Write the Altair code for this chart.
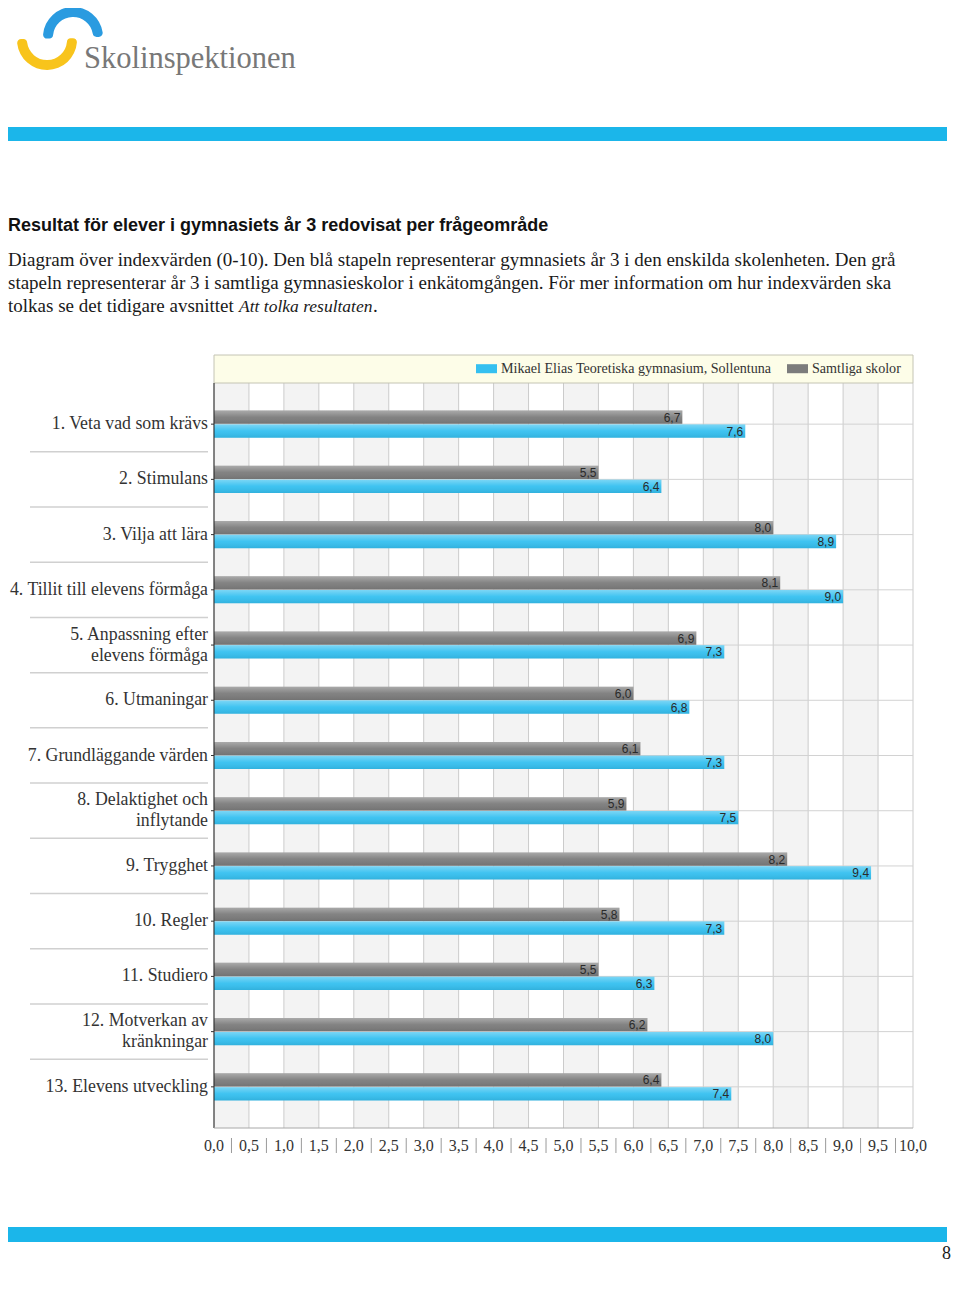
import altair as alt
import pandas as pd

# ---------------- data ----------------
categories = [
    "1. Veta vad som krävs",
    "2. Stimulans",
    "3. Vilja att lära",
    "4. Tillit till elevens förmåga",
    "5. Anpassning efter|elevens förmåga",
    "6. Utmaningar",
    "7. Grundläggande värden",
    "8. Delaktighet och|inflytande",
    "9. Trygghet",
    "10. Regler",
    "11. Studiero",
    "12. Motverkan av|kränkningar",
    "13. Elevens utveckling",
]
school_values = [7.6, 6.4, 8.9, 9.0, 7.3, 6.8, 7.3, 7.5, 9.4, 7.3, 6.3, 8.0, 7.4]
all_values = [6.7, 5.5, 8.0, 8.1, 6.9, 6.0, 6.1, 5.9, 8.2, 5.8, 5.5, 6.2, 6.4]
series_names = ["Mikael Elias Teoretiska gymnasium, Sollentuna", "Samtliga skolor"]
series_colors = ["#35c0f0", "#7c7c7c"]

grid_ticks = [0.0, 0.5, 1.0, 1.5, 2.0, 2.5, 3.0, 3.5, 4.0, 4.5, 5.0,
              5.5, 6.0, 6.5, 7.0, 7.5, 8.0, 8.5, 9.0, 9.5, 10.0]
shade_starts = [0.0, 1.0, 2.0, 3.0, 4.0, 5.0, 6.0, 7.0, 8.0, 9.0]
shade_ends = [0.5, 1.5, 2.5, 3.5, 4.5, 5.5, 6.5, 7.5, 8.5, 9.5]
label_separators = [0.25, 0.75, 1.25, 1.75, 2.25, 2.75, 3.25, 3.75, 4.25, 4.75,
                    5.25, 5.75, 6.25, 6.75, 7.25, 7.75, 8.25, 8.75, 9.25, 9.75]

logo_text = "Skolinspektionen"
heading = "Resultat för elever i gymnasiets år 3 redovisat per frågeområde"
para_lines = [
    "Diagram över indexvärden (0-10). Den blå stapeln representerar gymnasiets år 3 i den enskilda skolenheten. Den grå",
    "stapeln representerar år 3 i samtliga gymnasieskolor i enkätomgången. För mer information om hur indexvärden ska",
    "tolkas se det tidigare avsnittet",
]
para_italic = "Att tolka resultaten"
page_number = "8"

# ---------------- tables ----------------
bars_df = pd.DataFrame({
    "category": categories * 2,
    "series": [series_names[0]] * len(categories) + [series_names[1]] * len(categories),
    "value": school_values + all_values,
})
cat_df = pd.DataFrame({"category": categories})
single_df = pd.DataFrame({"category": [c for c in categories if "|" not in c]})
multi_df = pd.DataFrame({"category": [c for c in categories if "|" in c]})
sep_df = pd.DataFrame({"category": categories[:-1]})
grid_df = pd.DataFrame({"tick": grid_ticks})
shade_df = pd.DataFrame({"start": shade_starts, "end": shade_ends})
lsep_df = pd.DataFrame({"q": label_separators})
one = pd.DataFrame({"k": [0]})

W, H = 699, 745
x_scale = alt.Scale(domain=[0, 10], nice=False, zero=True)
y_scale = alt.Scale(domain=categories, paddingInner=0.51, paddingOuter=0.5)
off_scale = alt.Scale(domain=[series_names[1], series_names[0]], paddingInner=0.04)

SERIF = "Liberation Serif"
SANS = "Liberation Sans"
FMT = "replace(format(datum.{f}, '.1f'), '.', ',')"

Xq = lambda f: alt.X(f, scale=x_scale, axis=None)
Yc = alt.Y("category:N", scale=y_scale, axis=None, sort=categories)

# ---------------- plot layers ----------------
shade = alt.Chart(shade_df).mark_rect(color="#f3f3f3").encode(
    x=Xq("start:Q"), x2="end:Q", y=alt.value(0), y2=alt.value(H),
)
vgrid = alt.Chart(grid_df).mark_rule(color="#cbcbcb", strokeWidth=1).encode(
    x=Xq("tick:Q"), y=alt.value(0), y2=alt.value(H),
)
hgrid = alt.Chart(cat_df).mark_rule(color="#d2d2d2", strokeWidth=1).encode(
    y=Yc, x=alt.value(0), x2=alt.value(W),
)
separators = alt.Chart(sep_df).mark_rule(color="#d0d0d0", strokeWidth=1.5, yOffset=27.6).encode(
    y=Yc, x=alt.value(-184), x2=alt.value(-6),
)
y_ticks = alt.Chart(cat_df).mark_rule(color="#333333", strokeWidth=1).encode(
    y=Yc, x=alt.value(-3), x2=alt.value(0),
)
label_style = dict(align="right", baseline="middle", font=SERIF, fontSize=17.8,
                   color="#333333", lineBreak="|", lineHeight=21)
y_labels_single = alt.Chart(single_df).mark_text(**label_style).encode(
    y=Yc, x=alt.value(-6), text="category:N")
y_labels_multi = alt.Chart(multi_df).mark_text(dy=-10.5, **label_style).encode(
    y=Yc, x=alt.value(-6), text="category:N")
x_labels = alt.Chart(grid_df).transform_calculate(
    lab=FMT.format(f="tick")
).mark_text(align="center", baseline="alphabetic", font=SERIF, fontSize=16,
            color="#333333").encode(x=Xq("tick:Q"), y=alt.value(768), text="lab:N")
xlabel_seps = alt.Chart(lsep_df).mark_rule(color="#9a9a9a", strokeWidth=1).encode(
    x=Xq("q:Q"), y=alt.value(755), y2=alt.value(770),
)

bars = alt.Chart(bars_df).mark_bar().encode(
    x=Xq("value:Q"),
    y=Yc,
    yOffset=alt.YOffset("series:N", scale=off_scale),
    color=alt.Color("series:N", scale=alt.Scale(domain=series_names, range=series_colors),
                    legend=alt.Legend(
                        title=None, orient="none", legendX=262, legendY=-25,
                        direction="horizontal",
                        symbolType="M-1,-0.43H1V0.43H-1Z", symbolSize=441,
                        symbolStrokeWidth=0, labelFont=SERIF, labelFontSize=14.1,
                        labelColor="#333333", labelOffset=4, columnPadding=15,
                        labelLimit=0, zindex=2,
                    )),
)
shine = alt.Chart(bars_df).mark_bar(
    fill=alt.Gradient(
        gradient="linear", x1=0, y1=0, x2=0, y2=1,
        stops=[
            alt.GradientStop(offset=0, color="rgba(255,255,255,0.35)"),
            alt.GradientStop(offset=0.5, color="rgba(255,255,255,0.05)"),
            alt.GradientStop(offset=1, color="rgba(0,0,0,0.08)"),
        ],
    )
).encode(
    x=Xq("value:Q"), y=Yc,
    yOffset=alt.YOffset("series:N", scale=off_scale),
)
bar_labels = alt.Chart(bars_df).transform_calculate(
    txt=FMT.format(f="value")
).mark_text(align="right", baseline="middle", dx=-2, dy=0.5, font=SANS,
            fontSize=12, color="#2a2a2a").encode(
    x=Xq("value:Q"), y=Yc,
    yOffset=alt.YOffset("series:N", scale=off_scale),
    text="txt:N",
)

y_domain = alt.Chart(one).mark_rule(color="#222222", strokeWidth=1).encode(
    x=alt.value(0), y=alt.value(0), y2=alt.value(H))
x_domain = alt.Chart(one).mark_rule(color="#a8a8a8", strokeWidth=1).encode(
    x=alt.value(0), x2=alt.value(W), y=alt.value(H))

legend_box = alt.Chart(one).mark_rect(fill="#fdfde8", stroke="#c4c4b4", strokeWidth=1).encode(
    x=alt.value(0), x2=alt.value(W), y=alt.value(-28), y2=alt.value(0),
)

# ---------------- page decorations ----------------
def txt(s, x, y, size, font=SERIF, color="#1a1a1a", weight="normal", style="normal", align="left"):
    return alt.Chart(one).mark_text(
        align=align, baseline="alphabetic", font=font, fontSize=size,
        color=color, fontWeight=weight, fontStyle=style,
    ).encode(x=alt.value(x), y=alt.value(y), text=alt.value(s))

def band(x1, x2, y1, y2, color):
    return alt.Chart(one).mark_rect(color=color).encode(
        x=alt.value(x1), x2=alt.value(x2), y=alt.value(y1), y2=alt.value(y2))

logo_blue = alt.Chart(one).mark_arc(radius=30, radius2=20, cornerRadius=4, color="#2a9be0").encode(
    x=alt.value(-141), y=alt.value(-346), theta=alt.value(4.65), theta2=alt.value(7.85))
logo_yellow = alt.Chart(one).mark_arc(radius=30, radius2=20, cornerRadius=4, color="#f8c41c").encode(
    x=alt.value(-167), y=alt.value(-343), theta=alt.value(1.5), theta2=alt.value(4.75))

decor = [
    logo_blue, logo_yellow,
    txt(logo_text, -130, -315, 30.5, font=SERIF, color="#787878"),
    band(-206, 733, -256, -242, "#1bb6ea"),
    txt(heading, -206, -152, 18, font=SANS, color="#111111", weight="bold"),
    txt(para_lines[0], -206, -117, 19.0),
    txt(para_lines[1], -206, -94, 19.0),
    txt(para_lines[2], -206, -71, 19.0),
    txt(para_italic, 25, -71, 17.5, style="italic"),
    txt(".", 159, -71, 19.0),
    band(-206, 733, 844, 859, "#1bb6ea"),
    txt(page_number, 737, 876, 18, align="right"),
]

chart = alt.layer(
    shade, vgrid, hgrid, separators, xlabel_seps, legend_box,
    bars, shine, bar_labels, y_domain, x_domain, y_ticks,
    y_labels_single, y_labels_multi, x_labels,
    *decor,
).properties(
    width=W, height=H,
    autosize=alt.AutoSizeParams(type="none"),
    padding={"left": 206, "top": 375, "right": 38, "bottom": 136},
    background="white",
).configure_view(stroke=None)

chart.save("out.html", embed_options={"renderer": "svg", "actions": False})
